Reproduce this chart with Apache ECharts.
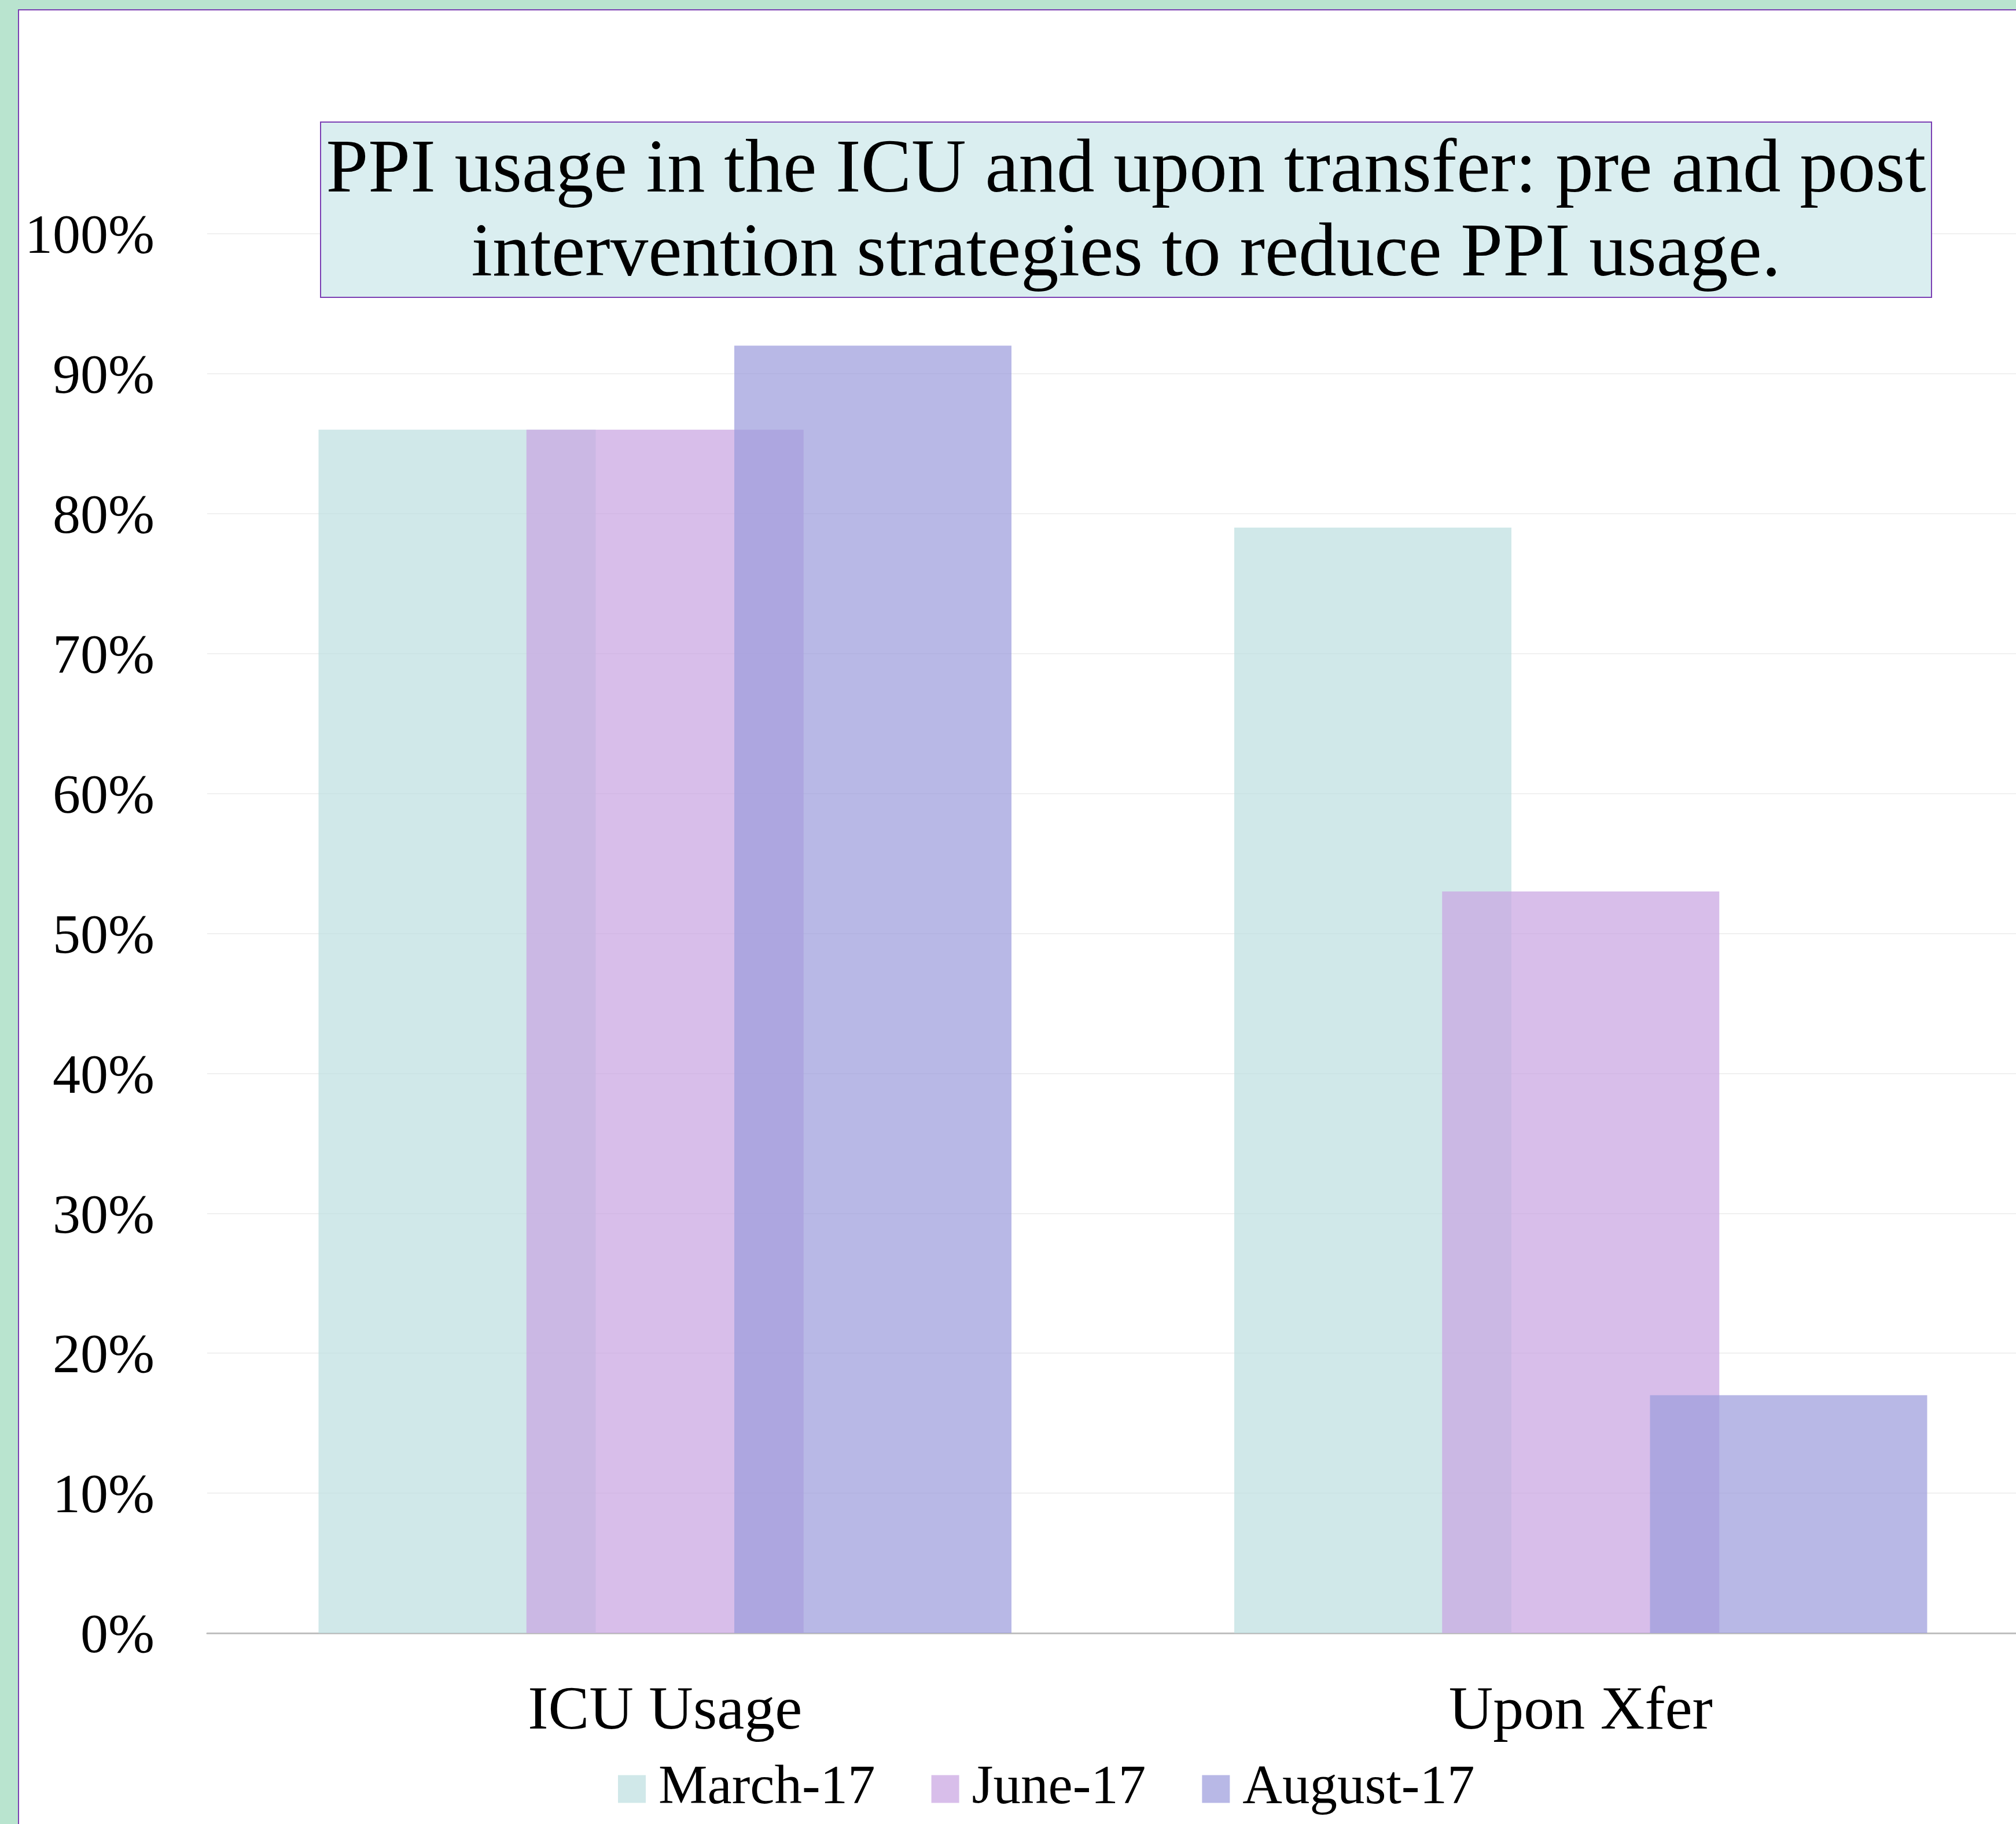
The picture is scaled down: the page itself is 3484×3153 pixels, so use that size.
<!DOCTYPE html>
<html>
<head>
<meta charset="utf-8">
<title>PPI usage</title>
<script src="https://cdn.jsdelivr.net/npm/echarts@6/dist/echarts.min.js"></script>
<style>
  html, body {
    margin: 0;
    padding: 0;
    width: 3484px;
    height: 3153px;
    overflow: hidden;
    background: #b9e4cf;
  }
  #panel {
    position: absolute;
    left: 31px;
    top: 16px;
    width: 3500px;
    height: 3200px;
    background: #fff;
    border: 2px solid #7b3fb3;
  }
  #chart {
    position: absolute;
    left: 0;
    top: 0;
    width: 3484px;
    height: 3153px;
  }
</style>
</head>
<body>
<div id="panel"></div>
<div id="chart"></div>
<script>
// data
const categories = ['ICU Usage', 'Upon Xfer']
const seriesNames = ['March-17', 'June-17', 'August-17']
const march17 = [86, 79]
const june17 = [86, 53]
const august17 = [92, 17]
const yTicks = [0, 10, 20, 30, 40, 50, 60, 70, 80, 90, 100]

const titleText = 'PPI usage in the ICU and upon transfer: pre and post\nintervention strategies to reduce PPI usage.'
const font = 'Liberation Serif'

const barColors = ['#bedfe0', '#c9a5e2', '#9c9cdc']
const seriesData = [march17, june17, august17]

const myChart = echarts.init(document.getElementById('chart'))

const option = {
  animation: false,
  title: {
    text: titleText,
    left: 1936,
    top: 211,
    textAlign: 'center',
    padding: [13, 10, 0, 10],
    backgroundColor: '#daeef0',
    borderColor: '#7b3fb3',
    borderWidth: 2,
    textStyle: {
      fontFamily: font,
      fontSize: 131,
      fontWeight: 'normal',
      lineHeight: 145,
      color: '#000'
    }
  },
  legend: {
    data: seriesNames,
    left: 1063,
    top: 3040,
    icon: 'rect',
    itemWidth: 48,
    itemHeight: 48,
    itemGap: 97,
    textStyle: {
      fontFamily: font,
      fontSize: 95,
      color: '#000',
      padding: [0, 0, 0, 17]
    }
  },
  grid: {
    left: 358,
    top: 404,
    width: 3165,
    bottom: 330,
    containLabel: false,
    outerBoundsMode: 'none'
  },
  xAxis: {
    type: 'category',
    data: categories,
    axisLine: {
      lineStyle: { color: '#bfbfbf', width: 3 }
    },
    axisTick: { show: false },
    axisLabel: {
      fontFamily: font,
      fontSize: 106,
      color: '#000',
      margin: 84
    }
  },
  yAxis: {
    type: 'value',
    min: yTicks[0],
    max: yTicks[yTicks.length - 1],
    interval: 10,
    axisLine: { show: false },
    axisTick: { show: false },
    splitLine: {
      lineStyle: { color: '#f0f0f0', width: 2 }
    },
    axisLabel: {
      // rich padding nudges the labels a bit below the gridlines, like the original
      formatter: '{v|{value}%}',
      margin: 91,
      rich: {
        v: {
          fontFamily: font,
          fontSize: 96,
          color: '#000',
          padding: [16, 0, 0, 0]
        }
      }
    }
  },
  series: seriesNames.map(function (name, i) {
    return {
      name: name,
      type: 'bar',
      barGap: '-25%',
      barCategoryGap: '24.33%',
      itemStyle: {
        color: barColors[i],
        opacity: 0.72
      },
      data: seriesData[i]
    }
  })
}

myChart.setOption(option)
window.onresize = function () {
  myChart.resize()
}
</script>
</body>
</html>
